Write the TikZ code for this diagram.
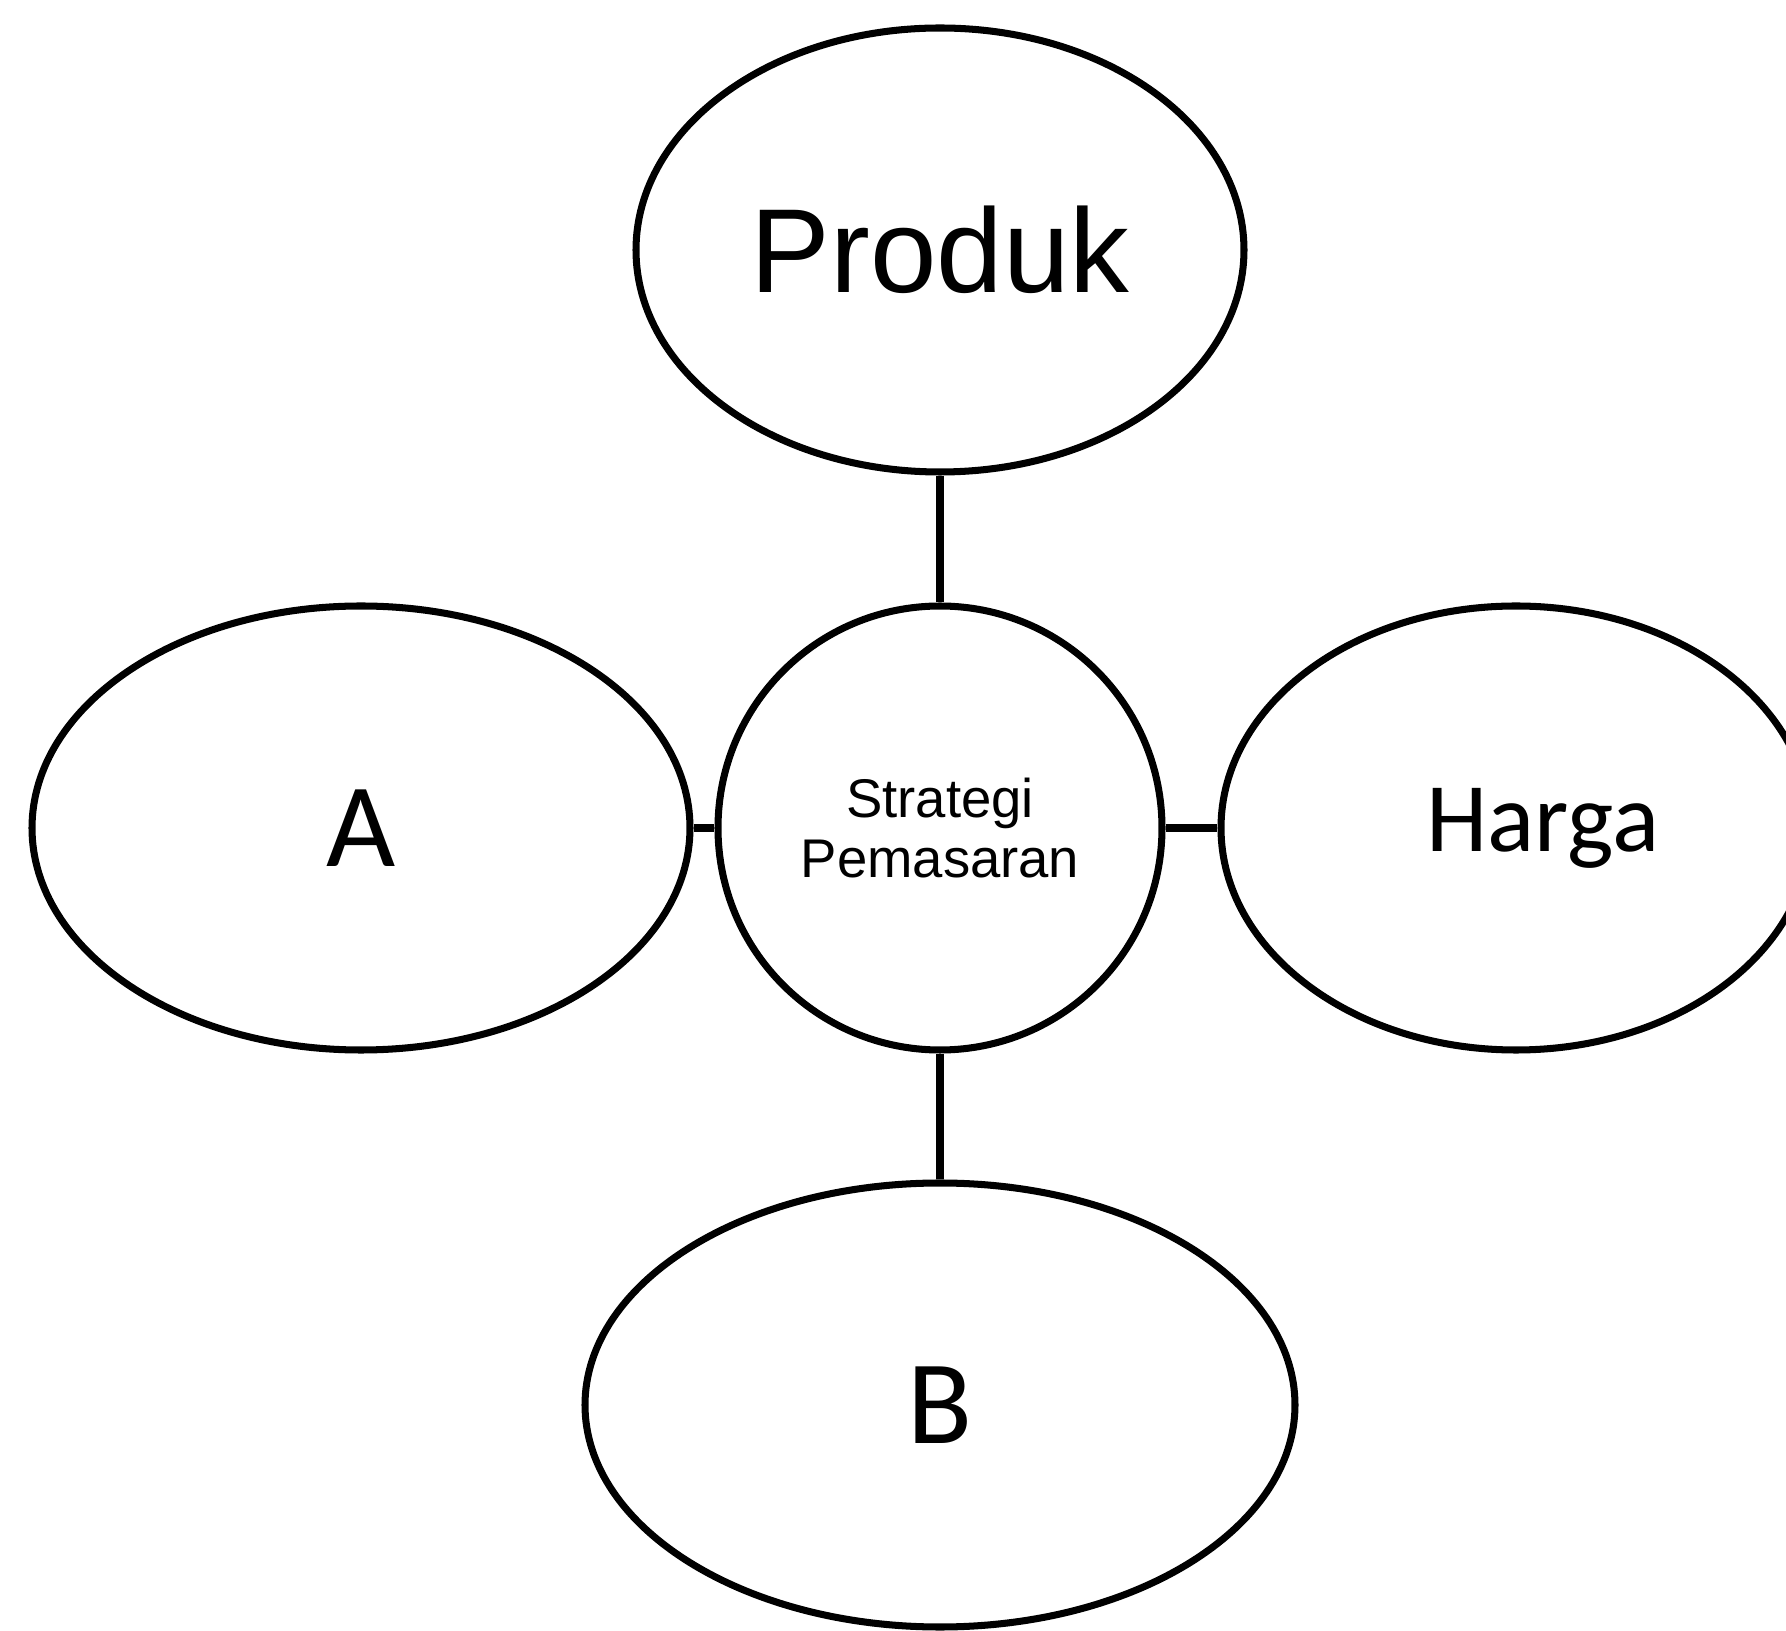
\documentclass[tikz,border=0pt]{standalone}
\usepackage{fontspec}
\setmainfont{Liberation Sans}
\newfontfamily\calib{Carlito}
\usetikzlibrary{shapes.geometric}
\begin{document}
\begin{tikzpicture}[line width=2pt,
  bubble/.style={draw, ellipse, inner sep=0pt, minimum height=4.44cm}]

\useasboundingbox (0,0) rectangle (17.86,16.30);

\node [bubble, circle, minimum size=4.44cm, align=center, font=\fontsize{15.5}{17}\selectfont] (strat) at (9.40,8.02) {Strategi\\Pemasaran};
\node [bubble, minimum width=6.08cm, font=\fontsize{34}{40}\selectfont] (produk) at (9.40,13.80) {Produk};
\node [bubble, minimum width=6.58cm, font=\calib\fontsize{34}{40}\selectfont] (a) at (3.61,8.02) {A};
\node [bubble, minimum width=5.90cm, font=\calib\fontsize{28}{34}\selectfont] (harga) at (15.16,8.02) {\hspace*{5.4mm}Harga};
\node [bubble, minimum width=7.10cm, font=\calib\fontsize{34}{40}\selectfont] (b) at (9.40,2.25) {B};
\draw  (produk) edge (strat);
\draw  (strat) edge (b);
\draw  (a) edge (strat);
\draw  (strat) edge (harga);
\end{tikzpicture}
\end{document}
